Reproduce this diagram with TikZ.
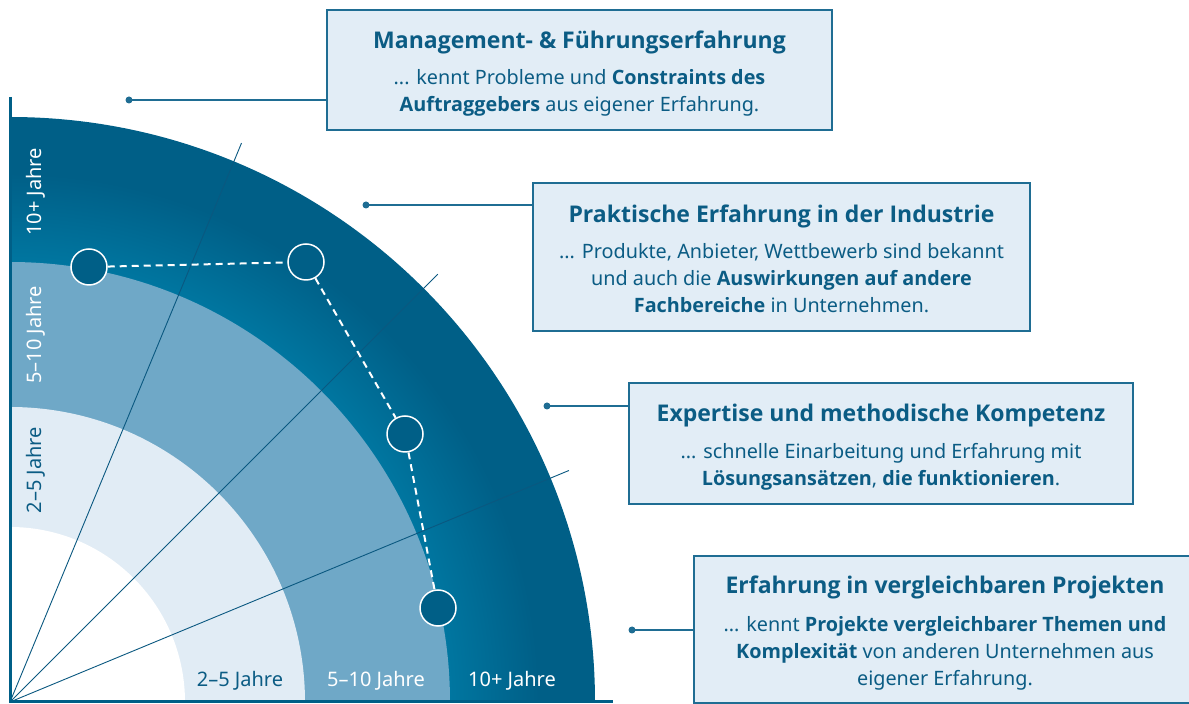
\documentclass[tikz,border=0pt]{standalone}
\usepackage{fontspec}
\setmainfont{Noto Sans}
\newfontfamily\osans{Open Sans}
\newcommand{\hb}[1]{{\osans\bfseries #1}}
\definecolor{dark}{HTML}{005F87}
\definecolor{bandin}{HTML}{0076A0}
\definecolor{midband}{HTML}{6FA8C7}
\definecolor{lightband}{HTML}{E1ECF5}
\definecolor{boxfill}{HTML}{E2EDF6}
\definecolor{boxline}{HTML}{1F6D93}
\definecolor{txt}{HTML}{0B5C84}
\definecolor{raycol}{HTML}{0A5880}
\pgfdeclareradialshading{ringshade}{\pgfpoint{0bp}{0bp}}{color(0bp)=(bandin); color(18.8bp)=(bandin); color(22.6bp)=(dark); color(50bp)=(dark)}
\newcommand{\ttlfont}{\fontsize{23}{27}\selectfont\osans\bfseries}
\begin{document}
\begin{tikzpicture}[x=1pt,y=1pt,
  infobox/.style={draw=boxline, line width=1.5pt, fill=boxfill, inner sep=0pt},
  boxtext/.style={align=center, text=txt, inner sep=0pt, font=\fontsize{19.8}{27}\selectfont},
  conn/.style={draw=boxline, line width=1.5pt},
  dotmark/.style={circle, fill=boxline, inner sep=0pt, minimum size=7pt},
  ray/.style={draw=raycol, line width=0.9pt},
  axisline/.style={draw=dark, line width=3pt},
  datapt/.style={circle, draw=white, line width=1.5pt, fill=dark, minimum size=36pt, inner sep=0pt},
  link/.style={draw=white, line width=2pt, dash pattern=on 7pt off 5pt},
  bandlbl/.style={font=\fontsize{20}{20}\selectfont, inner sep=0pt},
]
\useasboundingbox (0,0) rectangle (1189,704);
\coordinate (O) at (10,2);
\coordinate (ytop) at (10,607);
\coordinate (xend) at (613,2);
% bands
\begin{scope}
  \clip (O) -- ++(585,0) arc[start angle=0,end angle=90,radius=585] -- cycle;
  \shade[shading=ringshade] (O) circle[radius=585];
\end{scope}
\fill[midband] (O) -- ++(440,0) arc[start angle=0,end angle=90,radius=440] -- cycle;
\fill[lightband] (O) -- ++(295,0) arc[start angle=0,end angle=90,radius=295] -- cycle;
\fill[white] (O) -- ++(175,0) arc[start angle=0,end angle=90,radius=175] -- cycle;
% rays
\foreach \a in {22.5,45,67.5} \draw[ray] (O) -- ++(\a:605);
% axes
\draw[axisline] (ytop) -- (O) -- (xend);
% band labels
\node[bandlbl, text=white, rotate=90, anchor=base] (l10v) at (41,512) {10+ Jahre};
\node[bandlbl, text=white, rotate=90, anchor=base] (l5v) at (41,369) {5–10 Jahre};
\node[bandlbl, text=txt, rotate=90, anchor=base] (l2v) at (41,234) {2–5 Jahre};
\node[bandlbl, text=txt, anchor=base] (l2h) at (240,17) {2–5 Jahre};
\node[bandlbl, text=white, anchor=base] (l5h) at (376,17) {5–10 Jahre};
\node[bandlbl, text=white, anchor=base] (l10h) at (512,17) {10+ Jahre};
% data points
\node[datapt] (p1) at (89,437) {};
\node[datapt] (p2) at (306,442) {};
\node[datapt] (p3) at (405,270) {};
\node[datapt] (p4) at (438,96) {};
\draw[link] (p1) -- (p2) -- (p3) -- (p4);
% boxes
\node[infobox, minimum width=505pt, minimum height=120pt] (b1) at (579.5,634) {};
\node[boxtext] (t1) at (579.5,630) {%
  {\ttlfont Management- \& Führungserfahrung}\\[9pt]
  ... kennt Probleme und \hb{Constraints des}\\
  \hb{Auftraggebers} aus eigener Erfahrung.};
\node[infobox, minimum width=497pt, minimum height=148pt] (b2) at (781.5,447) {};
\node[boxtext] (t2) at (781.5,445) {%
  {\ttlfont Praktische Erfahrung in der Industrie}\\[9pt]
  ... Produkte, Anbieter, Wettbewerb sind bekannt\\
  und auch die \hb{Auswirkungen auf andere}\\
  \hb{Fachbereiche} in Unternehmen.};
\node[infobox, minimum width=504pt, minimum height=121pt] (b3) at (881,260.5) {};
\node[boxtext] (t3) at (881,257) {%
  {\ttlfont Expertise und methodische Kompetenz}\\[10pt]
  ... schnelle Einarbeitung und Erfahrung mit\\
  \hb{Lösungsansätzen}, \hb{die funktionieren}.};
\node[infobox, minimum width=506pt, minimum height=147pt] (b4) at (947,74.5) {};
\node[boxtext] (t4) at (945,71) {%
  {\ttlfont Erfahrung in vergleichbaren Projekten}\\[11pt]
  ... kennt \hb{Projekte vergleichbarer Themen und}\\
  \hb{Komplexität} von anderen Unternehmen aus\\
  eigener Erfahrung.};
% connectors
\node[dotmark] (d1) at (129,604) {};
\node[dotmark] (d2) at (366,499) {};
\node[dotmark] (d3) at (547,298) {};
\node[dotmark] (d4) at (632,74) {};
\draw[conn] (d1.center) -- (d1 -| b1.west);
\draw[conn] (d2.center) -- (d2 -| b2.west);
\draw[conn] (d3.center) -- (d3 -| b3.west);
\draw[conn] (d4.center) -- (d4 -| b4.west);
\end{tikzpicture}
\end{document}
